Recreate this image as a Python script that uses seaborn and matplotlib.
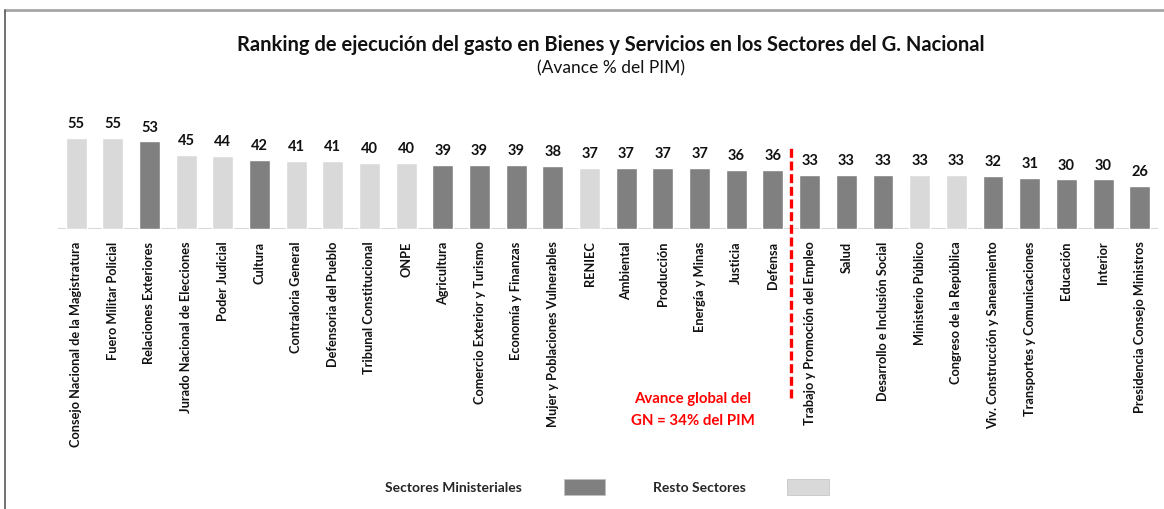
import matplotlib
matplotlib.use("Agg")
import matplotlib.pyplot as plt
import seaborn as sns
import pandas as pd
from matplotlib.patches import Patch
from matplotlib.lines import Line2D

categories = [
    "Consejo Nacional de la Magistratura", "Fuero Militar Policial", "Relaciones Exteriores",
    "Jurado Nacional de Elecciones", "Poder Judicial", "Cultura", "Contraloria General",
    "Defensoria del Pueblo", "Tribunal Constitucional", "ONPE", "Agricultura",
    "Comercio Exterior y Turismo", "Economía y Finanzas", "Mujer y Poblaciones Vulnerables",
    "RENIEC", "Ambiental", "Producción", "Energía y Minas", "Justicia", "Defensa",
    "Trabajo y Promoción del Empleo", "Salud", "Desarrollo e Inclusión Social",
    "Ministerio Público", "Congreso de la República", "Viv. Construcción y Saneamiento",
    "Transportes y Comunicaciones", "Educación", "Interior", "Presidencia Consejo Ministros",
]
values = [55, 55, 53, 45, 44, 42, 41, 41, 40, 40, 39, 39, 39, 38, 37, 37, 37, 37, 36, 36,
          33, 33, 33, 33, 33, 32, 31, 30, 30, 26]
groups = ["Resto Sectores", "Resto Sectores", "Sectores Ministeriales", "Resto Sectores",
          "Resto Sectores", "Sectores Ministeriales", "Resto Sectores", "Resto Sectores",
          "Resto Sectores", "Resto Sectores", "Sectores Ministeriales", "Sectores Ministeriales",
          "Sectores Ministeriales", "Sectores Ministeriales", "Resto Sectores",
          "Sectores Ministeriales", "Sectores Ministeriales", "Sectores Ministeriales",
          "Sectores Ministeriales", "Sectores Ministeriales", "Sectores Ministeriales",
          "Sectores Ministeriales", "Sectores Ministeriales", "Resto Sectores", "Resto Sectores",
          "Sectores Ministeriales", "Sectores Ministeriales", "Sectores Ministeriales",
          "Sectores Ministeriales", "Sectores Ministeriales"]
global_avance = 34
split_position = 19.5

palette = {"Sectores Ministeriales": "#808080", "Resto Sectores": "#D9D9D9"}

sns.set_theme(style="white")
plt.rcParams["font.family"] = ["Lato", "DejaVu Sans"]

df = pd.DataFrame({"sector": categories, "avance": values, "grupo": groups})

fig = plt.figure(figsize=(11.64, 5.09), dpi=100)
ax = fig.add_axes([0.0496, 0.550, 0.9453, 0.2338])

sns.barplot(data=df, x="sector", y="avance", hue="grupo", palette=palette,
            dodge=False, width=0.57, legend=False, ax=ax, saturation=1)

for c in ax.containers:
    ax.bar_label(c, fmt="{:.0f}", padding=5, fontsize=10.5, fontweight="bold", color="#111111")

ax.set_xlim(-0.5, len(categories) - 0.5)
ax.set_ylim(0, 72)
ax.set_xlabel("")
ax.set_ylabel("")
ax.set_yticks([])
ax.tick_params(axis="x", length=0, pad=9)
ax.set_xticks(range(len(categories)))
ax.set_xticklabels(categories, rotation=90, fontsize=9.2, fontweight="bold", va="top",
                   color="#111111")
for s in ax.spines.values():
    s.set_visible(False)
ax.axhline(0, color="#D9D9D9", lw=1.5, zorder=0)

ax.vlines(split_position, -102, 50, colors="#FF0000", linestyles=(0, (2.7, 1.1)),
          lw=2.4, clip_on=False, zorder=5)

fig.text(693 / 1164, 1 - 410 / 509, f"Avance global del\nGN = {global_avance}% del PIM",
         color="#FF0000", fontsize=10.8, fontweight="bold", ha="center", va="center",
         linespacing=1.65)

fig.text(611 / 1164, 1 - 45 / 509,
         "Ranking de ejecución del gasto en Bienes y Servicios en los Sectores del G. Nacional",
         fontsize=14.5, fontweight="bold", ha="center", va="center", color="#111111")
fig.text(611 / 1164, 1 - 68 / 509, "(Avance % del PIM)", fontsize=12.5, ha="center",
         va="center", color="#111111")

handles = [Patch(facecolor=palette[k], edgecolor="#BFBFBF", lw=0.5, label=k) for k in palette]
fig.legend(handles=handles, loc="center", bbox_to_anchor=(607 / 1164, 1 - 487 / 509),
           ncol=2, frameon=False, markerfirst=False,
           prop={"weight": "bold", "size": 10},
           handlelength=3.0, handleheight=1.4, handletextpad=3.0, columnspacing=3.4)

fig.add_artist(Line2D([5 / 1164, 1], [1 - 10 / 509, 1 - 10 / 509], color="#A6A6A6", lw=2,
                      transform=fig.transFigure))
fig.add_artist(Line2D([5 / 1164, 5 / 1164], [1 - 10 / 509, 0], color="#595959", lw=1.2,
                      transform=fig.transFigure))

fig.savefig("out.png", dpi=100)
